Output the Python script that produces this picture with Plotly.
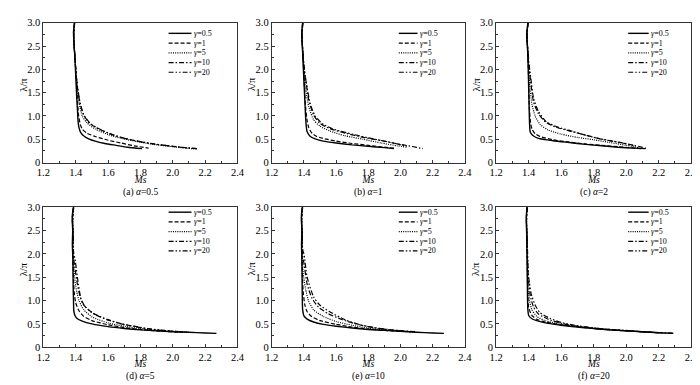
import plotly.graph_objects as go

# ---------------- labels / ticks ----------------
PANEL_TAGS = ["(a)", "(b)", "(c)", "(d)", "(e)", "(f)"]
ALPHA_LABELS = ["0.5", "1", "2", "5", "10", "20"]
GAMMA_LABELS = ["0.5", "1", "5", "10", "20"]
X_TICKS = [1.2, 1.4, 1.6, 1.8, 2.0, 2.2, 2.4]
X_TICK_TEXT = ["1.2", "1.4", "1.6", "1.8", "2.0", "2.2", "2.4"]
Y_TICKS = [0, 0.5, 1.0, 1.5, 2.0, 2.5, 3.0]
Y_TICK_TEXT = ["0", "0.5", "1.0", "1.5", "2.0", "2.5", "3.0"]

# ---------------- data: (a) alpha = 0.5 ----------------
MS_A1_G1 = [1.392, 1.386, 1.389, 1.394, 1.398, 1.402, 1.406, 1.411, 1.414, 1.42, 1.43, 1.45, 1.48, 1.52, 1.58, 1.65, 1.72, 1.81]
LAM_A1_G1 = [3.0, 2.8, 2.55, 2.3, 2.0, 1.7, 1.4, 1.1, 0.9, 0.75, 0.65, 0.57, 0.51, 0.46, 0.41, 0.37, 0.33, 0.30]
MS_A1_G2 = [1.392, 1.387, 1.39, 1.396, 1.401, 1.406, 1.411, 1.418, 1.428, 1.44, 1.47, 1.52, 1.60, 1.68, 1.76, 1.85]
LAM_A1_G2 = [3.0, 2.75, 2.5, 2.2, 1.9, 1.6, 1.3, 1.0, 0.82, 0.72, 0.63, 0.56, 0.48, 0.42, 0.36, 0.31]
MS_A1_G3 = [1.392, 1.387, 1.391, 1.397, 1.403, 1.41, 1.42, 1.44, 1.47, 1.52, 1.60, 1.68, 1.78, 1.88, 2.0, 2.08, 2.15]
LAM_A1_G3 = [3.0, 2.75, 2.45, 2.15, 1.85, 1.6, 1.3, 1.0, 0.85, 0.72, 0.60, 0.52, 0.45, 0.39, 0.34, 0.31, 0.29]
MS_A1_G4 = [1.393, 1.388, 1.392, 1.398, 1.405, 1.413, 1.425, 1.445, 1.48, 1.52, 1.60, 1.68, 1.78, 1.88, 2.0, 2.08, 2.16]
LAM_A1_G4 = [3.0, 2.7, 2.4, 2.1, 1.8, 1.55, 1.3, 1.05, 0.86, 0.76, 0.63, 0.54, 0.46, 0.40, 0.35, 0.32, 0.30]
MS_A1_G5 = [1.393, 1.388, 1.392, 1.398, 1.405, 1.414, 1.427, 1.45, 1.49, 1.54, 1.62, 1.70, 1.80, 1.90, 2.0, 2.10, 2.16]
LAM_A1_G5 = [3.0, 2.7, 2.4, 2.1, 1.8, 1.55, 1.28, 1.02, 0.84, 0.73, 0.61, 0.52, 0.45, 0.39, 0.35, 0.31, 0.30]

# ---------------- data: (b) alpha = 1 ----------------
MS_A2_G1 = [1.392, 1.386, 1.39, 1.394, 1.398, 1.402, 1.406, 1.41, 1.414, 1.42, 1.44, 1.47, 1.52, 1.60, 1.70, 1.80, 1.90, 1.96]
LAM_A2_G1 = [3.0, 2.75, 2.5, 2.2, 1.9, 1.6, 1.3, 1.0, 0.8, 0.66, 0.56, 0.51, 0.46, 0.42, 0.38, 0.35, 0.32, 0.30]
MS_A2_G2 = [1.392, 1.387, 1.39, 1.395, 1.4, 1.405, 1.41, 1.42, 1.43, 1.45, 1.48, 1.53, 1.60, 1.70, 1.80, 1.90, 1.96]
LAM_A2_G2 = [3.0, 2.75, 2.5, 2.2, 1.85, 1.5, 1.2, 0.9, 0.75, 0.63, 0.56, 0.51, 0.46, 0.41, 0.37, 0.33, 0.31]
MS_A2_G3 = [1.392, 1.388, 1.392, 1.398, 1.404, 1.41, 1.43, 1.46, 1.50, 1.56, 1.65, 1.77, 1.88, 1.98, 2.04]
LAM_A2_G3 = [3.0, 2.7, 2.4, 2.1, 1.8, 1.6, 1.2, 0.92, 0.78, 0.68, 0.58, 0.50, 0.42, 0.36, 0.33]
MS_A2_G4 = [1.393, 1.388, 1.393, 1.399, 1.405, 1.41, 1.43, 1.46, 1.50, 1.56, 1.66, 1.77, 1.87, 1.97, 2.05, 2.14]
LAM_A2_G4 = [3.0, 2.7, 2.4, 2.1, 1.9, 1.8, 1.35, 1.02, 0.84, 0.73, 0.63, 0.54, 0.48, 0.41, 0.36, 0.30]
MS_A2_G5 = [1.393, 1.388, 1.393, 1.4, 1.408, 1.42, 1.44, 1.47, 1.52, 1.60, 1.70, 1.80, 1.90, 1.98, 2.04]
LAM_A2_G5 = [3.0, 2.7, 2.4, 2.1, 1.85, 1.6, 1.25, 1.0, 0.82, 0.70, 0.61, 0.53, 0.46, 0.40, 0.35]

# ---------------- data: (c) alpha = 2 ----------------
MS_A3_G1 = [1.395, 1.388, 1.392, 1.396, 1.398, 1.40, 1.402, 1.404, 1.406, 1.41, 1.43, 1.46, 1.55, 1.65, 1.75, 1.85, 1.95, 2.05, 2.12]
LAM_A3_G1 = [3.0, 2.75, 2.5, 2.2, 1.9, 1.6, 1.3, 1.0, 0.8, 0.65, 0.57, 0.52, 0.47, 0.43, 0.39, 0.36, 0.33, 0.31, 0.30]
MS_A3_G2 = [1.395, 1.389, 1.393, 1.397, 1.4, 1.404, 1.41, 1.42, 1.44, 1.47, 1.55, 1.65, 1.75, 1.85, 1.95, 2.05, 2.10]
LAM_A3_G2 = [3.0, 2.75, 2.45, 2.1, 1.7, 1.2, 0.9, 0.72, 0.62, 0.56, 0.49, 0.44, 0.40, 0.37, 0.34, 0.31, 0.30]
MS_A3_G3 = [1.395, 1.389, 1.394, 1.399, 1.405, 1.42, 1.44, 1.47, 1.52, 1.60, 1.70, 1.80, 1.90, 2.0, 2.08]
LAM_A3_G3 = [3.0, 2.7, 2.4, 2.05, 1.7, 1.25, 1.0, 0.82, 0.70, 0.61, 0.54, 0.49, 0.43, 0.37, 0.32]
MS_A3_G4 = [1.396, 1.39, 1.395, 1.40, 1.41, 1.43, 1.46, 1.50, 1.56, 1.65, 1.75, 1.85, 1.95, 2.05, 2.12]
LAM_A3_G4 = [3.0, 2.7, 2.4, 2.1, 1.8, 1.3, 1.05, 0.88, 0.77, 0.68, 0.59, 0.50, 0.44, 0.37, 0.31]
MS_A3_G5 = [1.396, 1.39, 1.395, 1.401, 1.41, 1.43, 1.46, 1.51, 1.58, 1.65, 1.79, 1.90, 1.99, 2.06]
LAM_A3_G5 = [3.0, 2.7, 2.4, 2.15, 1.9, 1.38, 1.1, 0.87, 0.76, 0.69, 0.55, 0.47, 0.41, 0.35]

# ---------------- data: (d) alpha = 5 ----------------
MS_A4_G1 = [1.385, 1.378, 1.381, 1.379, 1.382, 1.383, 1.384, 1.386, 1.388, 1.395, 1.41, 1.44, 1.50, 1.60, 1.70, 1.80, 1.90, 2.0, 2.10, 2.20, 2.27]
LAM_A4_G1 = [3.0, 2.8, 2.5, 2.2, 1.9, 1.6, 1.3, 1.0, 0.78, 0.68, 0.61, 0.56, 0.50, 0.44, 0.40, 0.37, 0.35, 0.33, 0.32, 0.305, 0.295]
MS_A4_G2 = [1.386, 1.379, 1.382, 1.381, 1.384, 1.386, 1.39, 1.40, 1.42, 1.45, 1.50, 1.60, 1.70, 1.80, 1.90, 2.0, 2.05]
LAM_A4_G2 = [3.0, 2.75, 2.45, 2.1, 1.75, 1.45, 1.2, 0.95, 0.78, 0.66, 0.57, 0.48, 0.42, 0.38, 0.35, 0.33, 0.32]
MS_A4_G3 = [1.386, 1.38, 1.383, 1.382, 1.385, 1.39, 1.40, 1.42, 1.45, 1.50, 1.60, 1.70, 1.80, 1.90, 2.0, 2.10]
LAM_A4_G3 = [3.0, 2.7, 2.4, 2.1, 1.85, 1.6, 1.3, 1.0, 0.80, 0.65, 0.52, 0.45, 0.40, 0.36, 0.34, 0.32]
MS_A4_G4 = [1.387, 1.381, 1.384, 1.383, 1.387, 1.395, 1.41, 1.43, 1.46, 1.52, 1.60, 1.70, 1.80, 1.90, 2.0, 2.10]
LAM_A4_G4 = [3.0, 2.7, 2.4, 2.1, 1.9, 1.7, 1.35, 1.05, 0.86, 0.70, 0.58, 0.49, 0.42, 0.37, 0.34, 0.32]
MS_A4_G5 = [1.387, 1.381, 1.385, 1.384, 1.388, 1.395, 1.41, 1.44, 1.50, 1.60, 1.68, 1.76, 1.84, 1.95, 2.05]
LAM_A4_G5 = [3.0, 2.7, 2.4, 2.15, 2.0, 1.9, 1.5, 0.95, 0.74, 0.59, 0.50, 0.45, 0.40, 0.36, 0.33]

# ---------------- data: (e) alpha = 10 ----------------
MS_A5_G1 = [1.39, 1.384, 1.387, 1.385, 1.387, 1.388, 1.389, 1.39, 1.392, 1.40, 1.42, 1.46, 1.52, 1.60, 1.70, 1.80, 1.90, 2.0, 2.10, 2.20, 2.27]
LAM_A5_G1 = [3.0, 2.8, 2.5, 2.2, 1.9, 1.6, 1.3, 1.0, 0.8, 0.67, 0.60, 0.54, 0.49, 0.45, 0.41, 0.38, 0.36, 0.34, 0.32, 0.305, 0.295]
MS_A5_G2 = [1.39, 1.385, 1.388, 1.387, 1.39, 1.395, 1.405, 1.42, 1.45, 1.50, 1.60, 1.70, 1.80, 1.90, 2.0]
LAM_A5_G2 = [3.0, 2.75, 2.45, 2.1, 1.6, 1.2, 0.92, 0.76, 0.65, 0.57, 0.49, 0.43, 0.39, 0.36, 0.34]
MS_A5_G3 = [1.391, 1.385, 1.389, 1.388, 1.391, 1.395, 1.41, 1.43, 1.46, 1.52, 1.60, 1.70, 1.80, 1.90, 2.0, 2.10]
LAM_A5_G3 = [3.0, 2.7, 2.4, 2.1, 1.85, 1.6, 1.25, 0.98, 0.80, 0.66, 0.55, 0.47, 0.41, 0.37, 0.34, 0.32]
MS_A5_G4 = [1.391, 1.386, 1.39, 1.389, 1.393, 1.40, 1.42, 1.45, 1.49, 1.55, 1.63, 1.72, 1.82, 1.92, 2.02, 2.10]
LAM_A5_G4 = [3.0, 2.7, 2.4, 2.1, 1.95, 1.8, 1.35, 1.05, 0.86, 0.72, 0.60, 0.50, 0.43, 0.38, 0.35, 0.33]
MS_A5_G5 = [1.392, 1.386, 1.39, 1.39, 1.395, 1.40, 1.42, 1.46, 1.50, 1.56, 1.66, 1.76, 1.87, 1.97, 2.06]
LAM_A5_G5 = [3.0, 2.7, 2.4, 2.2, 2.05, 2.0, 1.5, 1.08, 0.90, 0.76, 0.58, 0.47, 0.40, 0.36, 0.33]

# ---------------- data: (f) alpha = 20 ----------------
MS_A6_G1 = [1.39, 1.385, 1.387, 1.389, 1.39, 1.391, 1.392, 1.393, 1.395, 1.40, 1.42, 1.46, 1.52, 1.60, 1.70, 1.80, 1.90, 2.0, 2.10, 2.20, 2.29]
LAM_A6_G1 = [3.0, 2.8, 2.5, 2.2, 1.9, 1.6, 1.3, 1.0, 0.8, 0.68, 0.61, 0.56, 0.51, 0.47, 0.43, 0.40, 0.37, 0.35, 0.33, 0.31, 0.30]
MS_A6_G2 = [1.39, 1.386, 1.388, 1.39, 1.392, 1.395, 1.40, 1.42, 1.45, 1.50, 1.60, 1.70, 1.80, 1.90, 2.0, 2.10, 2.20]
LAM_A6_G2 = [3.0, 2.75, 2.45, 2.1, 1.6, 1.1, 0.85, 0.68, 0.60, 0.54, 0.48, 0.44, 0.40, 0.37, 0.35, 0.33, 0.31]
MS_A6_G3 = [1.39, 1.386, 1.389, 1.391, 1.393, 1.395, 1.405, 1.42, 1.45, 1.50, 1.60, 1.70, 1.80, 1.90, 2.0, 2.10, 2.20]
LAM_A6_G3 = [3.0, 2.7, 2.4, 2.0, 1.6, 1.3, 1.0, 0.80, 0.66, 0.57, 0.49, 0.44, 0.40, 0.37, 0.35, 0.33, 0.31]
MS_A6_G4 = [1.391, 1.387, 1.39, 1.392, 1.395, 1.40, 1.41, 1.43, 1.46, 1.52, 1.60, 1.70, 1.80, 1.90, 2.0, 2.10, 2.20, 2.28]
LAM_A6_G4 = [3.0, 2.7, 2.4, 2.0, 1.7, 1.4, 1.1, 0.86, 0.71, 0.60, 0.51, 0.45, 0.41, 0.38, 0.35, 0.33, 0.31, 0.30]
MS_A6_G5 = [1.391, 1.387, 1.39, 1.393, 1.396, 1.40, 1.415, 1.44, 1.47, 1.53, 1.60, 1.70, 1.80, 1.90, 2.0, 2.10, 2.20]
LAM_A6_G5 = [3.0, 2.7, 2.4, 2.05, 1.75, 1.5, 1.15, 0.90, 0.74, 0.62, 0.53, 0.46, 0.41, 0.38, 0.36, 0.33, 0.31]

PANEL_DATA = [
    [(MS_A1_G1, LAM_A1_G1), (MS_A1_G2, LAM_A1_G2), (MS_A1_G3, LAM_A1_G3), (MS_A1_G4, LAM_A1_G4), (MS_A1_G5, LAM_A1_G5)],
    [(MS_A2_G1, LAM_A2_G1), (MS_A2_G2, LAM_A2_G2), (MS_A2_G3, LAM_A2_G3), (MS_A2_G4, LAM_A2_G4), (MS_A2_G5, LAM_A2_G5)],
    [(MS_A3_G1, LAM_A3_G1), (MS_A3_G2, LAM_A3_G2), (MS_A3_G3, LAM_A3_G3), (MS_A3_G4, LAM_A3_G4), (MS_A3_G5, LAM_A3_G5)],
    [(MS_A4_G1, LAM_A4_G1), (MS_A4_G2, LAM_A4_G2), (MS_A4_G3, LAM_A4_G3), (MS_A4_G4, LAM_A4_G4), (MS_A4_G5, LAM_A4_G5)],
    [(MS_A5_G1, LAM_A5_G1), (MS_A5_G2, LAM_A5_G2), (MS_A5_G3, LAM_A5_G3), (MS_A5_G4, LAM_A5_G4), (MS_A5_G5, LAM_A5_G5)],
    [(MS_A6_G1, LAM_A6_G1), (MS_A6_G2, LAM_A6_G2), (MS_A6_G3, LAM_A6_G3), (MS_A6_G4, LAM_A6_G4), (MS_A6_G5, LAM_A6_G5)],
]

# ---------------- styles / layout ----------------
FONT = "Liberation Serif, Times New Roman, serif"
DASHES = ["solid", "4px,2px", "1px,1.2px", "5px,2px,1.5px,2px", "5px,2px,1.5px,2px,1.5px,2px"]
WIDTHS = [1.4, 1.2, 1.2, 1.2, 1.2]
W, H = 700, 385
COL_PX = [(29, 227), (262, 459), (491, 690)]
ROW_PX = [(10, 154), (200, 344)]
LEG_X0 = [0.645, 0.658, 0.677]
LEG_X1 = [0.763, 0.755, 0.782]
LEG_Y = [[0.924, 0.854, 0.785, 0.715, 0.646], [0.965, 0.896, 0.826, 0.757, 0.688]]

fig = go.Figure()
layout = dict(
    width=W, height=H, margin=dict(l=0, r=0, t=0, b=0),
    paper_bgcolor="white", plot_bgcolor="white", showlegend=False,
    font=dict(family=FONT, size=10, color="black"),
)
shapes = []
annotations = []

for p in range(6):
    r, c = divmod(p, 3)
    idx = "" if p == 0 else str(p + 1)
    xa, ya = "x" + idx, "y" + idx
    x0, x1 = COL_PX[c]
    y0, y1 = ROW_PX[r]
    for g in range(5):
        ms, lam = PANEL_DATA[p][g]
        fig.add_trace(go.Scatter(
            x=ms, y=lam, mode="lines", xaxis=xa, yaxis=ya,
            line=dict(color="black", width=WIDTHS[g], dash=DASHES[g], shape="spline", smoothing=0.6),
            name="γ=" + GAMMA_LABELS[g], hoverinfo="skip"))
    common = dict(showline=True, linecolor="#333", linewidth=1, mirror=True, ticks="inside",
                  ticklen=3, tickcolor="#333", showgrid=False, zeroline=False,
                  tickfont=dict(family=FONT, size=10.5, color="black"))
    layout["xaxis" + idx] = dict(
        domain=[x0 / W, x1 / W], anchor=ya, range=[1.2, 2.4],
        tickmode="array", tickvals=X_TICKS, ticktext=X_TICK_TEXT,
        minor=dict(ticks="inside", ticklen=2, dtick=0.1, tickcolor="#333"), **common)
    layout["yaxis" + idx] = dict(
        domain=[1 - y1 / H, 1 - y0 / H], anchor=xa, range=[0, 3.0],
        tickmode="array", tickvals=Y_TICKS, ticktext=Y_TICK_TEXT,
        minor=dict(ticks="inside", ticklen=2, dtick=0.25, tickcolor="#333"), **common)

    xd, yd = xa + " domain", ya + " domain"
    # legend (drawn as line samples + text)
    for g in range(5):
        yy = LEG_Y[r][g]
        shapes.append(dict(type="line", xref=xd, yref=yd, x0=LEG_X0[c], x1=LEG_X1[c], y0=yy, y1=yy,
                           line=dict(color="black", width=WIDTHS[g], dash=DASHES[g])))
        annotations.append(dict(xref=xd, yref=yd, x=LEG_X1[c] + 0.006, y=yy, xanchor="left", yanchor="middle",
                                text="<i>γ</i>=" + GAMMA_LABELS[g], showarrow=False, borderpad=0,
                                font=dict(family=FONT, size=8, color="black")))
    # x-axis title and caption as one two-line text block
    annotations.append(dict(xref=xd, yref=yd, x=0.5, y=0, yshift=-11, xanchor="center", yanchor="top",
                            text="<i>Ms</i><br>" + PANEL_TAGS[p] + " <i>α</i>=" + ALPHA_LABELS[p],
                            align="center", showarrow=False, borderpad=0,
                            font=dict(family=FONT, size=9.5)))
    annotations.append(dict(xref=xd, yref=yd, x=0, xshift=-20, y=0.56, xanchor="center", yanchor="middle",
                            text="λ/π", textangle=-90, showarrow=False, font=dict(family=FONT, size=10.5)))

layout["shapes"] = shapes
layout["annotations"] = annotations
fig.update_layout(**layout)
fig.write_html("out.html")
